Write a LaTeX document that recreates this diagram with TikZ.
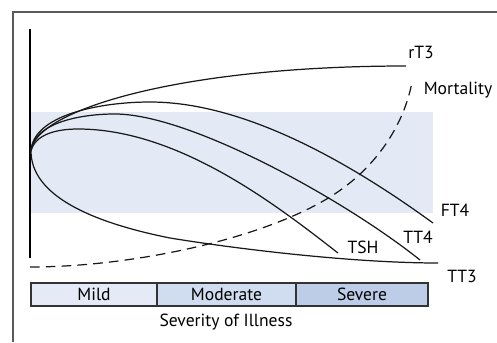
\documentclass[tikz,border=0pt]{standalone}
\usepackage{fontspec}
\setmainfont{PT Sans}
\usepackage{tikz}

\definecolor{bandblue}{HTML}{E3EAF5}
\definecolor{mildblue}{HTML}{E4EBF6}
\definecolor{modblue}{HTML}{D0DCEF}
\definecolor{sevblue}{HTML}{BDCDE8}
\definecolor{framegray}{HTML}{5A5A5A}

\begin{document}
\begin{tikzpicture}[x=0.02cm,y=-0.02cm,
	curve/.style={line width=0.7pt, color=black!90},
	lbl/.style={font=\fontsize{10}{12}\selectfont, inner sep=0pt},
	sevbox/.style={draw=black!80, line width=0.6pt, minimum height=0.46cm, inner sep=0pt, font=\fontsize{10}{12}\selectfont}]
	\useasboundingbox (0,0) rectangle (497,342);
	\fill[bandblue] (31,112) rectangle (433,213);
	\draw[framegray, line width=0.8pt] (497,12) -- (13,12) -- (13,342);
	\draw[line width=1.5pt] (30,29) -- (30,258);

	\coordinate (o) at (31,151);
	\coordinate (rT3end) at (406,66);
	\coordinate (FT4end) at (433,223);
	\coordinate (TT4end) at (420,260);
	\coordinate (TSHend) at (338,253);
	\coordinate (TT3end) at (438,263);
	\coordinate (mstart) at (30,267);
	\coordinate (mend) at (412,82);

	\node[lbl] (rT3) at (421,52) {rT3};
	\node[lbl] (mort) at (458,90) {Mortality};
	\node[lbl] (FT4) at (455,210) {FT4};
	\node[lbl] (TT4) at (418,237) {TT4};
	\node[lbl] (TSH) at (363,247) {TSH};
	\node[lbl] (TT3) at (462,276) {TT3};

	\draw[curve] (o) .. controls (35,110) and (180,66) .. (rT3end);
	\draw[curve] (o) .. controls (33,115) and (100,102) .. (150,102)
		.. controls (250,102) and (360,170) .. (FT4end);
	\draw[curve] (o) .. controls (33,125) and (75,114) .. (115,114)
		.. controls (190,114) and (345,200) .. (TT4end);
	\draw[curve] (o) .. controls (35,135) and (55,129) .. (78,129)
		.. controls (180,129) and (280,208) .. (TSHend);
	\draw[curve] (o) .. controls (31,195) and (90,222) .. (170,238)
		.. controls (250,251) and (360,263) .. (TT3end);
	\draw[curve, dash pattern=on 5.5pt off 3.5pt] (mstart) .. controls (130,267) and (260,240) .. (330,197)
		.. controls (380,166) and (405,120) .. (mend);

	\node[sevbox, fill=mildblue, minimum width=2.52cm] (mild) at (94,294.5) {Mild};
	\node[sevbox, fill=modblue, minimum width=2.78cm] (moderate) at (226.5,294.5) {Moderate};
	\node[sevbox, fill=sevblue, minimum width=2.64cm] (severe) at (362,294.5) {Severe};
	\node[lbl] (illness) at (226,322) {Severity of Illness};
\end{tikzpicture}
\end{document}
